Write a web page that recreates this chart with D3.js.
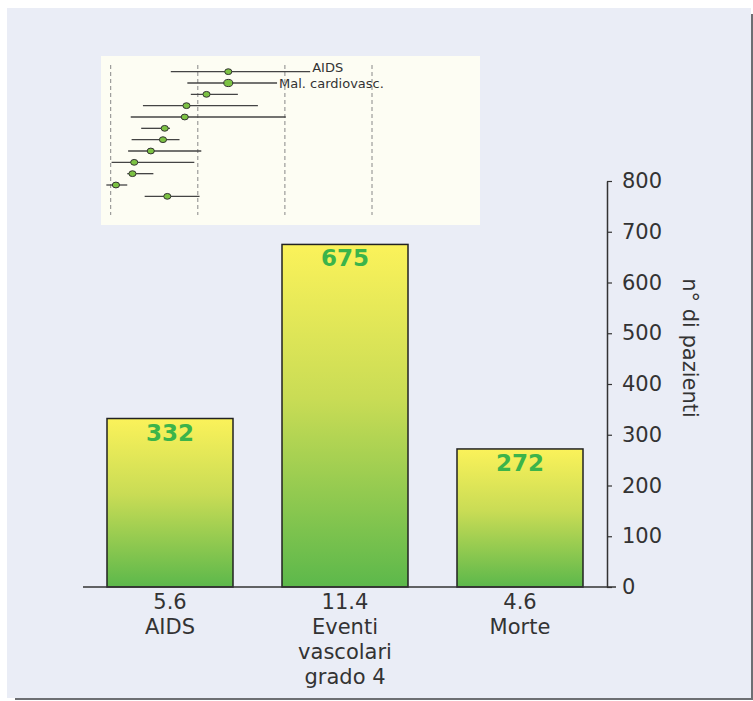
<!DOCTYPE html>
<html>
<head>
<meta charset="utf-8">
<script src="https://cdn.jsdelivr.net/npm/d3@7"></script>
<style>
  body { margin: 0; background: #fff; }
  text { font-family: "DejaVu Sans", Verdana, sans-serif; }
</style>
</head>
<body>
<div id="chart"></div>
<script>
/* DATA */
const categories = ["AIDS", "Eventi vascolari grado 4", "Morte"];
const catLines = [["5.6", "AIDS"], ["11.4", "Eventi", "vascolari", "grado 4"], ["4.6", "Morte"]];
const patients = [332, 675, 272];
const yTicks = [0, 100, 200, 300, 400, 500, 600, 700, 800];

// inset forest plot (estimate with low / high bounds)
const forestLow  = [0.69, 0.88, 0.92, 0.37, 0.23, 0.35, 0.24, 0.20, 0.01, 0.19, -0.05, 0.39];
const forestEst  = [1.35, 1.35, 1.10, 0.87, 0.85, 0.62, 0.60, 0.46, 0.27, 0.25, 0.06, 0.65];
const forestHigh = [2.29, 1.91, 1.46, 1.69, 2.01, 0.68, 0.79, 1.04, 0.96, 0.49, 0.19, 1.02];
const forestLabels = ["AIDS", "Mal. cardiovasc.", "", "", "", "", "", "", "", "", "", ""];
const forestRefs = [0, 1, 2, 3];

/* CONSTANTS */
const width = 753, height = 701;

const svg = d3.select("#chart").append("svg")
  .attr("width", width)
  .attr("height", height);

/* PANEL + SHADOW */
svg.append("rect").attr("x", 751).attr("y", 14).attr("width", 2).attr("height", 686).attr("fill", "#6d6f73");
svg.append("rect").attr("x", 15).attr("y", 698).attr("width", 738).attr("height", 2).attr("fill", "#6d6f73");
svg.append("rect").attr("x", 7).attr("y", 8).attr("width", 744).attr("height", 690).attr("fill", "#eaedf6");

/* GRADIENT */
const defs = svg.append("defs");
const grad = defs.append("linearGradient").attr("id", "barGrad")
  .attr("x1", 0).attr("y1", 0).attr("x2", 0).attr("y2", 1);
grad.append("stop").attr("offset", "0%").attr("stop-color", "#fbf25a");
grad.append("stop").attr("offset", "45%").attr("stop-color", "#c9dc55");
grad.append("stop").attr("offset", "100%").attr("stop-color", "#5cb84b");

/* SCALES */
const xScale = d3.scaleBand()
  .domain(categories)
  .range([58, 632])
  .padding(0.28);

const yScale = d3.scaleLinear()
  .domain([0, 800])
  .range([587, 181]);

/* BARS */
svg.selectAll("rect.bar")
  .data(patients)
  .join("rect")
    .attr("class", "bar")
    .attr("x", (d, i) => xScale(categories[i]))
    .attr("y", d => yScale(d))
    .attr("width", xScale.bandwidth())
    .attr("height", d => yScale(0) - yScale(d))
    .attr("fill", "url(#barGrad)")
    .attr("stroke", "#222")
    .attr("stroke-width", 1.5);

svg.selectAll("text.val")
  .data(patients)
  .join("text")
    .attr("class", "val")
    .attr("x", (d, i) => xScale(categories[i]) + xScale.bandwidth() / 2)
    .attr("y", d => yScale(d) + 22)
    .attr("text-anchor", "middle")
    .style("font-size", "23px")
    .style("font-weight", "bold")
    .style("fill", "#3bb44a")
    .text(d => d);

/* BASELINE */
svg.append("line")
  .attr("x1", 83).attr("x2", 616)
  .attr("y1", yScale(0)).attr("y2", yScale(0))
  .attr("stroke", "#333").attr("stroke-width", 1.5);

/* Y AXIS (right side) */
const yAxis = svg.append("g")
  .attr("transform", "translate(607,0)")
  .call(d3.axisRight(yScale).tickValues(yTicks).tickSize(5).tickPadding(10).tickSizeOuter(0));
yAxis.select(".domain").attr("stroke", "#333").attr("stroke-width", 1.5);
yAxis.selectAll(".tick line").attr("stroke", "#333").attr("stroke-width", 1.2);
yAxis.selectAll(".tick text")
  .style("font-size", "21px")
  .style("font-family", "'DejaVu Sans', Verdana, sans-serif")
  .attr("fill", "#333");

svg.append("text")
  .attr("transform", "translate(683,348) rotate(90)")
  .attr("text-anchor", "middle")
  .style("font-size", "21px")
  .style("fill", "#333")
  .text("n° di pazienti");

/* X LABELS */
const xLab = svg.selectAll("text.xlab")
  .data(catLines)
  .join("text")
    .attr("class", "xlab")
    .attr("x", (d, i) => xScale(categories[i]) + xScale.bandwidth() / 2)
    .attr("y", 609)
    .attr("text-anchor", "middle")
    .style("font-size", "21px")
    .style("fill", "#333");
xLab.selectAll("tspan")
  .data(d => d)
  .join("tspan")
    .attr("x", function() { return d3.select(this.parentNode).attr("x"); })
    .attr("dy", (d, i) => i === 0 ? 0 : 25)
    .text(d => d);

/* INSET FOREST PLOT */
svg.append("rect")
  .attr("x", 101).attr("y", 56).attr("width", 379).attr("height", 169)
  .attr("fill", "#fdfdf3");

const fx = d3.scaleLinear().domain([0, 3]).range([110.7, 372]);
const fy = d3.scaleBand().domain(d3.range(forestEst.length)).range([66, 202]);

svg.selectAll("line.ref")
  .data(forestRefs)
  .join("line")
    .attr("class", "ref")
    .attr("x1", d => fx(d)).attr("x2", d => fx(d))
    .attr("y1", 65).attr("y2", 215)
    .attr("stroke", "#888")
    .attr("stroke-width", 1)
    .attr("stroke-dasharray", "4,3");

const rows = svg.selectAll("g.row")
  .data(forestEst)
  .join("g")
    .attr("class", "row")
    .attr("transform", (d, i) => `translate(0,${fy(i) + fy.bandwidth() / 2})`);

rows.append("line")
  .attr("x1", (d, i) => fx(forestLow[i]))
  .attr("x2", (d, i) => fx(forestHigh[i]))
  .attr("stroke", "#444")
  .attr("stroke-width", 1.3);

rows.append("ellipse")
  .attr("cx", d => fx(d))
  .attr("rx", (d, i) => i === 1 ? 4.5 : 3.6)
  .attr("ry", (d, i) => i === 1 ? 3.6 : 2.9)
  .attr("fill", "#7cc243")
  .attr("stroke", "#333")
  .attr("stroke-width", 1);

// first label sits on its line, second is centred on it
rows.append("text")
  .attr("x", (d, i) => fx(forestHigh[i]) + 2)
  .attr("y", (d, i) => i === 0 ? 0 : 5)
  .style("font-size", "13px")
  .style("fill", "#333")
  .text((d, i) => forestLabels[i]);
</script>
</body>
</html>
